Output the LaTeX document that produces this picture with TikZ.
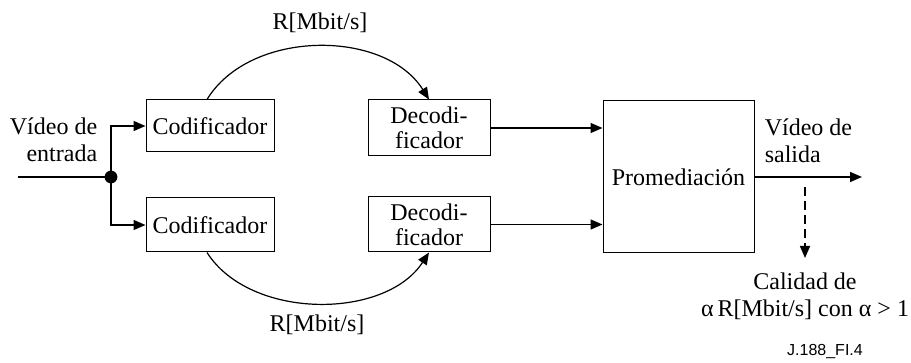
\documentclass[tikz,border=0pt]{standalone}
\usepackage{fontspec}
\setmainfont{Liberation Serif}
\newfontfamily\figlabelfont{Liberation Sans}
\usetikzlibrary{arrows.meta}
\tikzset{
  blockbox/.style={draw, line width=0.5pt, inner sep=1pt, align=center,
    font=\fontsize{12}{12.5}\selectfont},
  txt/.style={inner sep=0pt, font=\fontsize{12}{13.5}\selectfont},
}
\begin{document}
\begin{tikzpicture}[x=0.5pt,y=-0.5pt,>={Triangle[length=6pt,width=5pt]},line width=0.8pt]
    \useasboundingbox (0,0) rectangle (911,363);
    % blocks
    \node[blockbox, minimum width=64pt, minimum height=26pt] (cod1) at (210,126) {Codificador};
    \node[blockbox, minimum width=64pt, minimum height=27pt] (cod2) at (210,225) {Codificador};
    \node[blockbox, minimum width=61pt, minimum height=28pt] (dec1) at (429,128) {Decodi-\\ficador};
    \node[blockbox, minimum width=61pt, minimum height=27.5pt] (dec2) at (429,224.5) {Decodi-\\ficador};
    \node[blockbox, minimum width=75.5pt, minimum height=76pt] (prom) at (678.5,177) {Promediación};
    % texts
    \node[txt, align=right, anchor=east] (vin) at (98,139.5) {Vídeo de\\entrada};
    \node[txt, align=left, anchor=west] (vout) at (764,141) {Vídeo de\\salida};
    \node[txt] (rtop) at (320,23) {R[Mbit/s]};
    \node[txt] (rbot) at (317,325) {R[Mbit/s]};
    \node[txt, align=center] (cal) at (805,296.5) {Calidad de\\α\,R[Mbit/s] con α > 1};
    \node[inner sep=0pt, font=\figlabelfont\fontsize{8}{9}\selectfont] (ref) at (825,352) {J.188\_FI.4};
    % input and split
    \coordinate (in) at (18,177);
    \coordinate (dot) at (111,177);
    \draw (in) -- (dot);
    \fill (dot) circle (3.2pt);
    \draw[->] (dot) |- (cod1.west);
    \draw[->] (dot) |- (cod2.west);
    % channels
    \draw[->, line width=0.6pt] ([xshift=-1.5pt]cod1.north) .. controls (250,29) and (385,29) .. (dec1.north);
    \draw[->, line width=0.6pt] ([xshift=-1.5pt]cod2.south) .. controls (250,320) and (385,320) .. (dec2.south);
    % to averaging and out
    \draw[->] (dec1.east) -- (dec1.east -| prom.west);
    \draw[->] (dec2.east) -- (dec2.east -| prom.west);
    \coordinate (out) at (862,177);
    \draw[->] (prom.east) -- (out);
    \coordinate (q0) at (805,187);
    \coordinate (q1) at (805,258);
    \draw[->, dash pattern=on 4.5pt off 2.5pt] (q0) -- (q1);
\end{tikzpicture}
\end{document}
